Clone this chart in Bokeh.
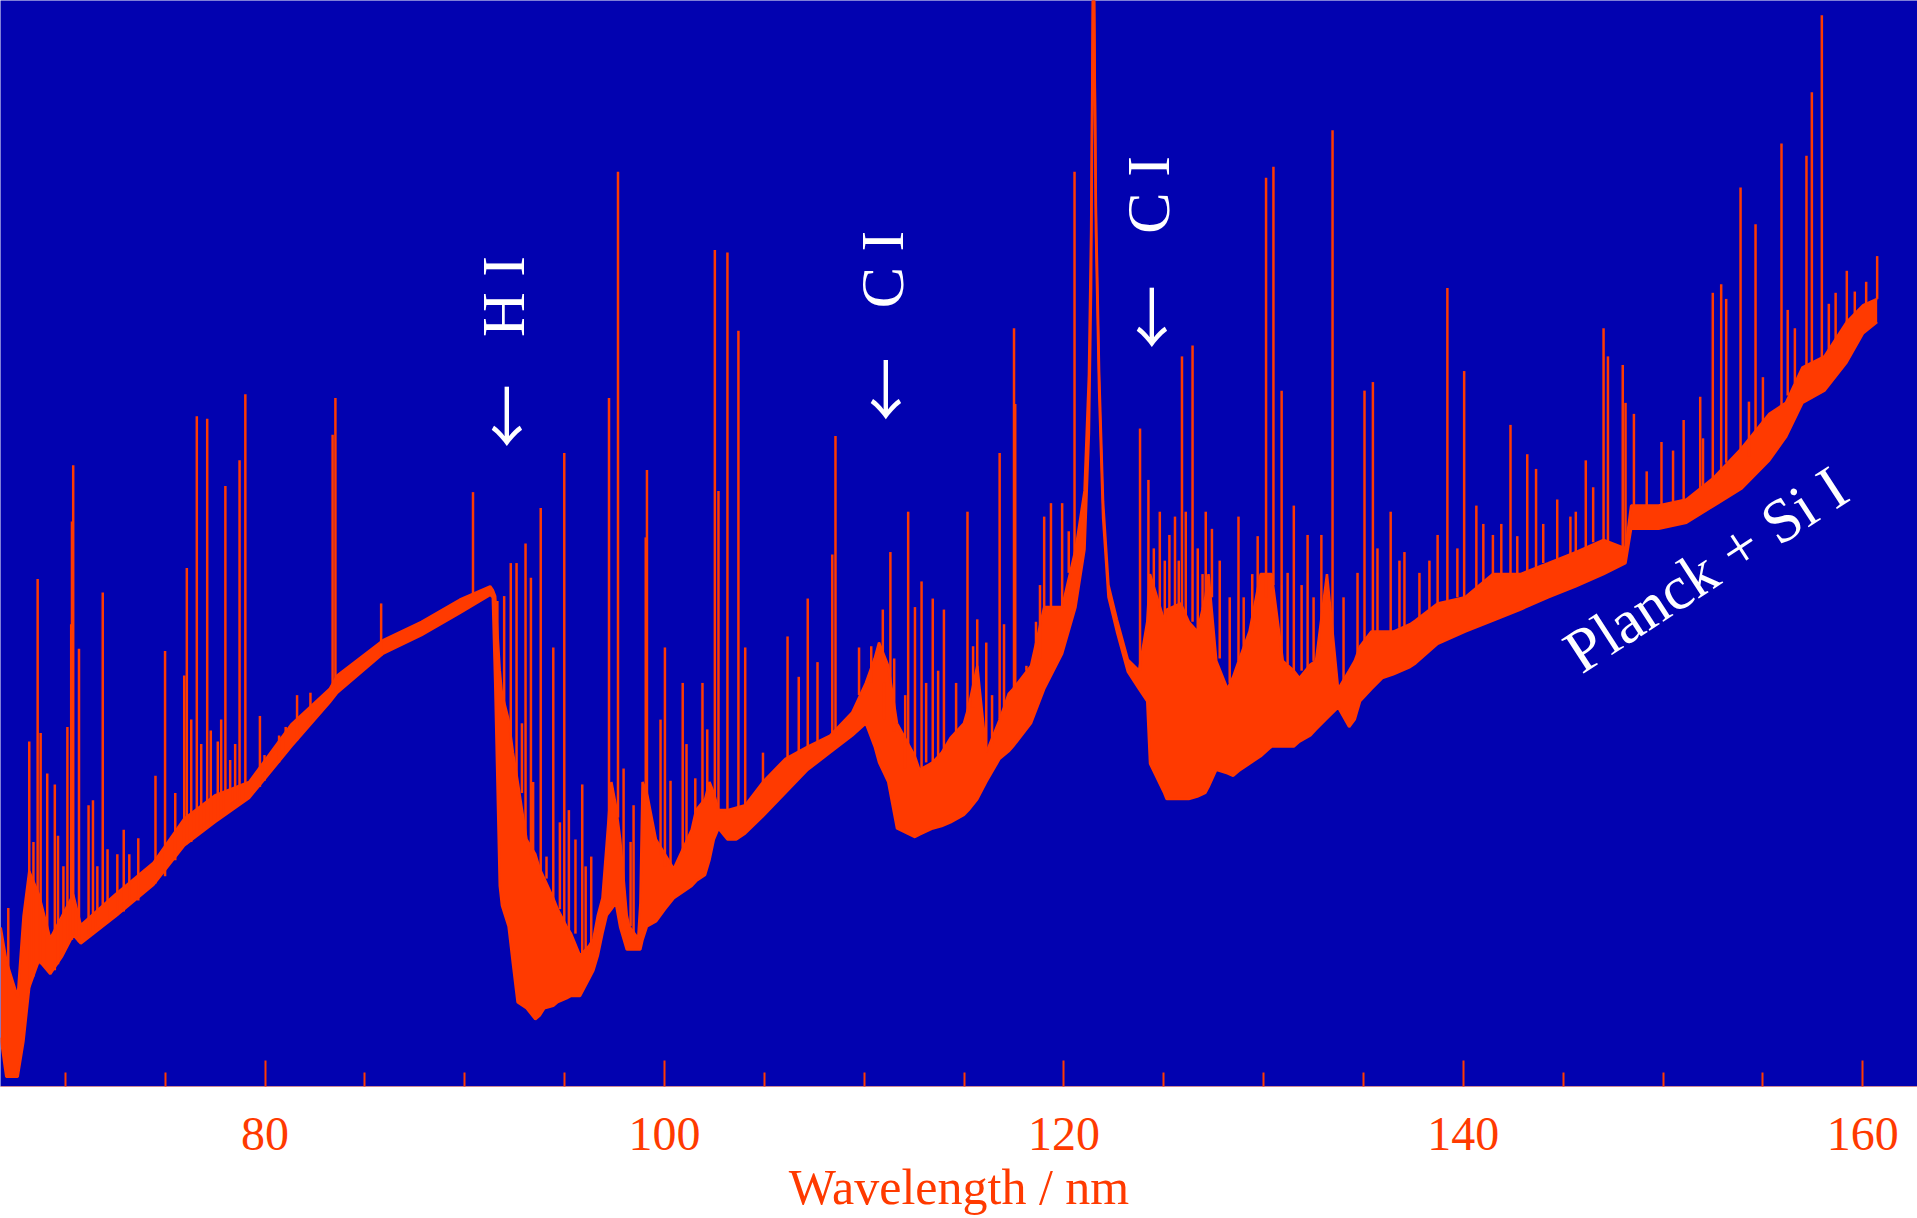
from bokeh.plotting import figure
from bokeh.models import FixedTicker, Range1d, GlobalInlineStyleSheet
from bokeh.core.properties import value
from bokeh.embed import file_html
from bokeh.resources import INLINE

# ---------------- data (wavelength in nm, intensity in arbitrary units) ----------------
# body of the spectrum: lower and upper envelope of the dense emission
left_wl = [66.76, 67.04, 67.61, 67.90, 68.19, 68.67, 69.24, 69.82, 70.39, 70.77, 72.50, 74.41,
           75.95, 77.48, 79.20, 81.31, 83.23, 83.61, 85.91, 87.83, 89.74, 91.27]
left_lo = [40, 8, 8, 37, 81, 103, 92, 106, 124, 117, 139, 165, 197, 216, 236, 278, 314, 322, 354, 369, 387, 402]
left_hi = [130, 103, 73, 139, 176, 157, 121, 139, 157, 132, 157, 183, 219, 238, 249, 296, 325, 336, 365, 380, 398, 409]

lyman_wl = [91.40, 91.52, 91.75, 91.86, 92.19, 92.41, 92.64, 93.09, 93.53, 93.75, 93.98, 94.43, 94.65, 95.09,
            95.32, 95.77, 96.22, 96.44, 96.66, 96.89, 97.11, 97.34, 97.56, 97.78, 98.11, 98.23, 98.68, 98.79,
            98.90, 99.12, 99.57, 100.02, 100.46, 101.36, 101.58, 102.03, 102.25, 102.47, 102.70, 103.15, 103.59,
            104.04, 104.93, 106.05, 107.17, 108.29, 109.40, 110.08]
lyman_lo = [400, 330, 164, 148, 131, 100, 69, 64, 55, 58, 64, 66, 69, 72, 74, 74, 88, 95, 107, 125, 140, 145,
            150, 130, 112, 112, 112, 112, 120, 131, 135, 145, 154, 164, 168, 173, 185, 202, 211, 202, 202, 207,
            221, 240, 259, 273, 287, 297]
lyman_hi = [406, 401, 340, 321, 300, 273, 250, 202, 190, 178, 170, 154, 145, 131, 125, 107, 115, 121, 140, 154,
            200, 249, 230, 202, 140, 131, 121, 150, 249, 240, 202, 190, 178, 210, 226, 235, 249, 240, 226, 226,
            228, 230, 249, 268, 278, 287, 306, 330]

carbon_wl = [110.52, 110.74, 111.20, 111.64, 112.54, 112.76, 113.43, 113.88, 114.32, 114.99, 115.22, 115.66,
             116.11, 116.78, 117.23, 117.45, 118.35, 119.01, 119.91, 120.58, 121.03, 121.25, 121.36, 121.45,
             121.51, 121.60, 121.76, 121.96, 122.23, 122.65, 123.20, 123.76, 124.17]
carbon_lo = [278, 265, 249, 211, 204, 206, 211, 213, 216, 222, 226, 235, 249, 268, 274, 278, 297, 325, 354, 392,
             439, 534, 653, 888, 888, 700, 569, 465, 400, 372, 339, 325, 315]
carbon_hi = [350, 363, 344, 297, 270, 259, 265, 273, 285, 297, 310, 344, 273, 300, 321, 325, 344, 392, 392, 439,
             487, 582, 700, 888, 888, 720, 585, 478, 410, 382, 349, 340, 380]

red_wl = [124.31, 125.02, 125.14, 125.85, 126.25, 126.68, 127.08, 127.24, 127.63, 128.19, 128.47, 128.75, 129.29,
          129.85, 130.40, 130.96, 131.51, 131.79, 132.34, 132.62, 133.17, 133.73, 134.28, 134.56, 134.83, 135.39,
          135.94, 136.49, 137.33, 137.60, 138.71, 140.09, 141.48, 142.86, 144.25, 145.63, 147.02, 148.12, 148.40,
          149.78, 151.17, 152.55, 153.94, 155.32, 156.15, 156.98, 158.08, 159.19, 160.02, 160.72]
red_lo = [264, 240, 235, 235, 235, 237, 240, 245, 259, 256, 254, 258, 264, 270, 278, 278, 278, 282, 287, 292, 301,
          310, 294, 300, 315, 325, 334, 337, 343, 346, 362, 372, 381, 390, 400, 409, 419, 428, 456, 456, 461, 475,
          489, 512, 531, 559, 569, 592, 616, 625]
red_hi = [419, 381, 390, 395, 380, 372, 400, 419, 348, 325, 335, 348, 372, 419, 419, 348, 340, 334, 345, 348, 419,
          325, 340, 348, 360, 372, 372, 372, 378, 381, 395, 400, 419, 419, 428, 437, 447, 440, 475, 475, 480, 498,
          522, 550, 559, 588, 597, 625, 639, 644]

# strong emission lines: wavelength, peak and foot of each spike
line_wl = [67.14, 68.19, 68.61, 68.76, 69.09, 69.47, 69.63, 70.10, 70.29, 70.33, 70.39, 70.68, 71.16, 71.38,
           71.87, 72.11, 72.60, 72.92, 73.65, 74.51, 74.99, 75.95, 76.08, 76.58, 77.10, 77.28, 77.63, 78.01,
           78.25, 78.72, 79.01, 79.74, 79.97, 80.70, 81.03, 81.60, 82.27, 83.38, 83.52, 85.81, 89.55, 90.41,
           91.97, 92.30, 92.59, 93.04, 93.31, 93.80, 94.43, 94.98, 95.21, 95.88, 96.33, 97.22, 97.67, 98.45,
           99.06, 99.12, 100.02, 100.91, 101.54, 102.14, 102.52, 102.70, 103.15, 103.70, 104.04, 104.93, 106.16,
           106.72, 107.17, 107.66, 108.40, 108.56, 109.74, 110.93, 111.31, 112.20, 112.54, 112.87, 113.43, 113.99,
           115.17, 115.66, 116.11, 116.78, 117.00, 117.50, 117.56, 118.12, 119.01, 119.35, 119.91, 120.24, 120.53,
           123.81, 124.23, 125.28, 125.56, 125.91, 126.44, 126.94, 127.41, 128.74, 129.43, 130.12, 130.49, 130.90,
           131.51, 132.20, 132.89, 133.45, 135.05, 135.47, 136.36, 137.05, 138.71, 139.20, 140.04, 140.65, 141.48,
           142.36, 143.20, 143.64, 145.36, 145.63, 146.13, 147.02, 147.24, 147.98, 148.12, 148.54, 149.18, 149.92,
           151.03, 151.86, 152.49, 152.91, 153.16, 153.88, 154.63, 155.93, 156.24, 157.18, 157.45, 157.95, 158.64,
           159.20, 160.17, 160.72]
line_top = [146, 282, 415, 289, 256, 247, 205, 294, 378, 462, 508, 358, 230, 234, 404, 194, 190, 210, 203, 254,
            356, 336, 424, 548, 546, 291, 282, 491, 267, 512, 566, 303, 271, 287, 294, 320, 322, 533, 563, 395,
            387, 486,
            401, 428, 428, 444, 416, 473, 359, 518, 226, 247, 188, 563, 748, 230, 449, 504, 359, 330, 252, 292,
            684, 487, 682, 618, 359, 273, 368, 335, 399, 347, 435, 532, 359, 390, 437, 470, 392, 413, 399, 390,
            470, 382, 363, 518, 378, 620, 558, 344, 466, 477, 477, 454, 748,
            538, 496, 451, 466, 597, 606, 419, 456, 466, 419, 743, 752, 569, 475, 451, 451, 782, 569, 576, 470,
            437, 451, 653, 585, 475, 451, 541, 517, 505, 466, 470, 512, 620, 597, 590, 559, 550, 503, 527, 545,
            564, 649, 656, 644, 735, 705, 771, 635, 761, 813, 876, 649, 667, 658, 679]
line_foot = [10, 81, 100, 100, 95, 95, 100, 115, 120, 120, 124, 118, 125, 128, 132, 135, 140, 143, 152, 166,
             172, 197, 198, 205, 212, 214, 218, 224, 227, 232, 234, 245, 250, 265, 272, 283, 297, 318, 320, 352,
             385, 394,
             300, 280, 250, 200, 190, 175, 150, 130, 125, 105, 115, 200, 220, 121, 240, 240, 180, 190, 220, 240,
             235, 226, 226, 228, 230, 249, 268, 272, 278, 282, 287, 288, 320, 350, 330, 280, 270, 260, 265, 275,
             305, 340, 273, 300, 310, 325, 325, 340, 392, 392, 392, 420, 435,
             340, 380, 390, 390, 390, 380, 390, 400, 348, 372, 400, 410, 350, 340, 340, 360, 370, 365, 372, 372,
             375, 395, 397, 400, 405, 419, 419, 421, 424, 435, 437, 440, 447, 446, 440, 440, 475, 475, 475, 480,
             488, 497, 505, 510, 520, 535, 555, 565, 590, 592, 595, 610, 625, 640, 644]

# weaker lines that make up the dense line forest
weak_wl = [68.40, 69.90, 71.60, 73.20, 75.50, 76.30, 76.80, 77.80, 78.50,
           91.63, 92.86, 93.42, 94.09, 94.76, 95.54, 96.05, 97.95, 98.30, 99.80, 100.30, 101.10, 101.90,
           110.35, 111.00, 111.50, 112.05, 113.10, 113.70, 114.60, 115.45, 116.40, 118.60, 118.80,
           124.50, 124.80, 125.05, 125.75, 126.10, 126.70, 127.10, 127.80, 128.30, 129.00, 129.70, 131.20,
           131.90, 132.50, 134.00, 134.70, 135.70, 136.80, 137.80, 138.30, 139.70, 141.00, 141.90, 142.70,
           144.00, 144.70, 146.50, 150.50, 152.00, 154.30, 155.00, 156.60, 158.30, 159.60]
weak_top = [200, 180, 180, 190, 240, 300, 280, 300, 280,
            397, 297, 249, 188, 216, 202, 180, 260, 200, 300, 250, 280, 330,
            360, 330, 350, 320, 330, 340, 330, 360, 320, 380, 410,
            440, 470, 430, 430, 470, 440, 470, 430, 400, 400, 450, 420,
            410, 400, 400, 420, 440, 430, 420, 430, 440, 460, 460, 450,
            460, 480, 490, 520, 530, 560, 580, 620, 640, 650]
weak_foot = [90, 110, 130, 150, 185, 200, 210, 220, 230,
             330, 240, 190, 170, 145, 125, 110, 150, 131, 190, 178, 200, 230,
             330, 300, 290, 260, 265, 270, 290, 310, 280, 344, 350,
             400, 390, 380, 390, 380, 372, 400, 350, 330, 350, 380, 345,
             340, 348, 330, 350, 372, 375, 381, 390, 400, 410, 419, 419,
             428, 430, 445, 478, 490, 515, 540, 575, 600, 630]

major_ticks = [80, 100, 120, 140, 160]
minor_ticks = [70, 75, 85, 90, 95, 105, 110, 115, 125, 130, 135, 145, 150, 155]

label_text = ["H\u00a0I", "C\u00a0I", "C\u00a0I"]
label_wl = [91.89, 110.87, 124.19]
label_y = [646, 668, 729]
arrow_text = ["\u2190", "\u2190", "\u2190"]
arrow_y = [548, 570, 629]
planck_text = ["Planck + Si I"]
planck_wl = [152.13]
planck_y = [423]

# ---------------- figure ----------------
RED = "#ff3a00"
BLUE = "#0202b0"

body_wl = left_wl + lyman_wl + carbon_wl + red_wl
body_lo = left_lo + lyman_lo + carbon_lo + red_lo
body_hi = left_hi + lyman_hi + carbon_hi + red_hi

p = figure(frame_width=1917, frame_height=1086,
           x_range=Range1d(66.75, 162.74), y_range=Range1d(0, 888),
           output_backend="svg", toolbar_location=None, y_axis_location=None,
           min_border_left=0, min_border_right=0, min_border_top=0, min_border_bottom=0)
p.background_fill_color = BLUE
p.border_fill_color = "white"
p.outline_line_color = None
p.grid.visible = False

p.varea(x=body_wl, y1=body_lo, y2=body_hi, fill_color=RED)
p.line(body_wl, body_lo, line_color=RED, line_width=2.5)
p.line(body_wl, body_hi, line_color=RED, line_width=2.5)
p.segment(x0=weak_wl, y0=weak_foot, x1=weak_wl, y1=weak_top, line_color=RED, line_width=2.5)
p.segment(x0=line_wl, y0=line_foot, x1=line_wl, y1=line_top, line_color=RED, line_width=2.5)

p.text(x=label_wl, y=label_y, text=label_text, angle=1.5708,
       text_font=value("Liberation Serif"), text_font_size="62px", text_color="white",
       text_align="center", text_baseline="middle")
p.text(x=label_wl, y=arrow_y, text=arrow_text, angle=1.5708,
       text_font=value("Noto Sans CJK JP"), text_font_size="64px", text_color="white",
       text_align="center", text_baseline="middle")
p.text(x=planck_wl, y=planck_y, text=planck_text, angle=0.576,
       text_font=value("Liberation Serif"), text_font_size="62px", text_color="white",
       text_align="center", text_baseline="middle")

ax = p.xaxis[0]
ax.ticker = FixedTicker(ticks=major_ticks, minor_ticks=minor_ticks)
ax.major_tick_in = 26
ax.major_tick_out = 0
ax.minor_tick_in = 14
ax.minor_tick_out = 0
ax.major_tick_line_color = RED
ax.minor_tick_line_color = RED
ax.major_tick_line_width = 2
ax.minor_tick_line_width = 2
ax.axis_line_color = "#ff9070"
ax.axis_line_alpha = 0.6
ax.axis_line_width = 1
ax.major_label_text_font = "Liberation Serif"
ax.major_label_text_font_size = "48px"
ax.major_label_text_color = RED
ax.major_label_standoff = 31
ax.axis_label = "Wavelength / nm"
ax.axis_label_text_font = "Liberation Serif"
ax.axis_label_text_font_style = "normal"
ax.axis_label_text_font_size = "50px"
ax.axis_label_text_color = RED
ax.axis_label_standoff = 6

p.stylesheets = [GlobalInlineStyleSheet(css="html, body {margin:0 !important; padding:0 !important; overflow:hidden;}")]

open("out.html", "w").write(file_html(p, INLINE))
